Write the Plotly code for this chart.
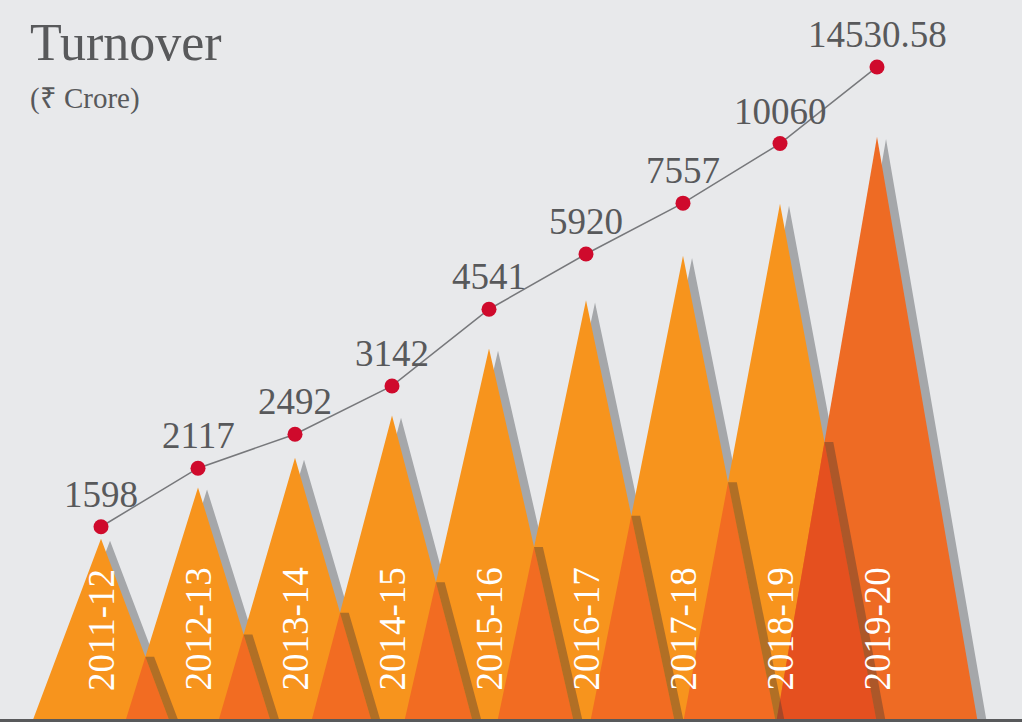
import numpy as np
import plotly.graph_objects as go

# ---- data ----
years = ["2011-12", "2012-13", "2013-14", "2014-15", "2015-16",
         "2016-17", "2017-18", "2018-19", "2019-20"]
turnover = [1598, 2117, 2492, 3142, 4541, 5920, 7557, 10060, 14530.58]
value_labels = ["1598", "2117", "2492", "3142", "4541", "5920", "7557", "10060", "14530.58"]
title_text = "Turnover"
unit_text = "(₹ Crore)"

# ---- style ----
BG = "#E8E9EB"
ORANGE = "#F7941D"
ORANGE_LAST = "#EE6B24"
OVERLAP = "#F26C22"
OVERLAP_LAST = "#E5501F"
SHADOW = "#A5A7AA"
STRIPE = "rgba(80,60,50,0.42)"
DOT = "#CF0A2C"
LINE = "#77787B"
TEXT = "#58595B"
FONT = "Liberation Serif"

n = len(years)
xs = np.arange(n, dtype=float)
TRI_RANGE = [2.7661, 4.4888]   # log10 range of triangle axis
DOT_RANGE = [2.7965, 4.3019]   # log10 range of dot axis
X_RANGE = [-1.0412, 9.4948]
base_L = TRI_RANGE[0]
half_w = 0.71 + 0.041 * xs
SH_DX = 0.093
SH_DL = 0.005

logv = np.log10(np.array(turnover, dtype=float))


def tri_pts(i, shift=0.0, drop=0.0):
    return [(xs[i] - half_w[i] + shift, base_L),
            (xs[i] + shift, logv[i] - drop),
            (xs[i] + half_w[i] + shift, base_L)]


def to_xy(polys):
    X, Y = [], []
    for poly in polys:
        for (px, pl) in poly:
            X.append(px)
            Y.append(10 ** pl)
        X.append(None)
        Y.append(None)
    return X, Y


def intersect(i):
    j = i + 1
    A = np.array([[half_w[i], half_w[j]],
                  [base_L - logv[i], -(base_L - logv[j])]])
    rhs = np.array([xs[j] - xs[i], logv[j] - logv[i]])
    t, s = np.linalg.solve(A, rhs)
    return xs[i] + t * half_w[i], logv[i] + t * (base_L - logv[i])


shadows = [tri_pts(i, SH_DX, SH_DL) for i in range(n)]
tris_main = [tri_pts(i) for i in range(n - 1)]
tri_last = [tri_pts(n - 1)]

overlaps, overlap_last, stripes = [], [], []
for i in range(n - 1):
    j = i + 1
    right_i = xs[i] + half_w[i]
    left_j = xs[j] - half_w[j]
    if right_i <= left_j:
        continue
    px, pl = intersect(i)
    poly = [(left_j, base_L), (px, pl), (right_i, base_L)]
    (overlap_last if j == n - 1 else overlaps).append(poly)
    a_l = logv[i] - SH_DL
    t = (a_l - pl) / (a_l - base_L)
    qx = xs[i] + SH_DX + t * half_w[i]
    stripes.append([(px, pl), (qx, pl), (right_i + SH_DX, base_L), (right_i, base_L)])

fig = go.Figure()


def add_poly(polys, color):
    X, Y = to_xy(polys)
    fig.add_trace(go.Scatter(x=X, y=Y, mode="lines", fill="toself", fillcolor=color,
                             line=dict(width=0, color=color), hoverinfo="skip",
                             showlegend=False, yaxis="y"))


add_poly(shadows, SHADOW)
add_poly(tris_main, ORANGE)
add_poly(tri_last, ORANGE_LAST)
add_poly(overlaps, OVERLAP)
add_poly(overlap_last, OVERLAP_LAST)
add_poly(stripes, STRIPE)

fig.add_trace(go.Scatter(x=xs, y=turnover, mode="lines+markers", yaxis="y2",
                         line=dict(color=LINE, width=1.5),
                         marker=dict(size=15, color=DOT),
                         hoverinfo="skip", showlegend=False))

annotations = []
for i in range(n):
    annotations.append(dict(x=xs[i], y=logv[i], xref="x", yref="y2", text=value_labels[i],
                            showarrow=False, yanchor="bottom", xanchor="center", yshift=10,
                            font=dict(family=FONT, size=37, color=TEXT)))
    annotations.append(dict(x=xs[i], y=1 - 693 / 722, xref="x", yref="paper", text=years[i],
                            showarrow=False, textangle=-90, yanchor="bottom", xanchor="center",
                            font=dict(family=FONT, size=37, color="white")))

annotations.append(dict(x=28 / 1022, y=1 - 43 / 722, xref="paper", yref="paper", text=title_text,
                        showarrow=False, xanchor="left", yanchor="middle",
                        font=dict(family=FONT, size=52, color=TEXT)))
annotations.append(dict(x=28 / 1022, y=1 - 98 / 722, xref="paper", yref="paper", text=unit_text,
                        showarrow=False, xanchor="left", yanchor="middle",
                        font=dict(family=FONT, size=29, color=TEXT)))

fig.update_layout(
    width=1022, height=722, autosize=False,
    margin=dict(l=0, r=0, t=0, b=0),
    paper_bgcolor=BG, plot_bgcolor=BG,
    xaxis=dict(range=X_RANGE, visible=False, fixedrange=True),
    yaxis=dict(type="log", range=TRI_RANGE, visible=False, fixedrange=True),
    yaxis2=dict(type="log", range=DOT_RANGE, visible=False, overlaying="y", fixedrange=True),
    annotations=annotations,
    shapes=[dict(type="rect", xref="paper", yref="paper", x0=0, x1=1, y0=0, y1=0.004,
                 fillcolor="#58595B", line=dict(width=0), layer="above")],
    showlegend=False,
)

fig.write_html("out.html", config={"displayModeBar": False},
               post_script="document.body.style.margin='0px';document.body.style.overflow='hidden';")
